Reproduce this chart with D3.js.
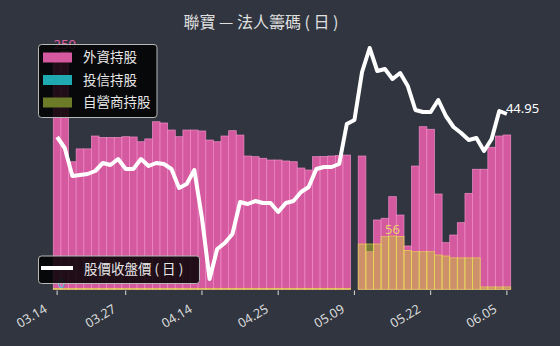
<!DOCTYPE html>
<html><head><meta charset="utf-8">
<script src="https://cdn.jsdelivr.net/npm/d3@7"></script>
<style>html,body{margin:0;padding:0;background:#30353f;} svg{display:block}</style>
</head><body>
<svg id="c" width="560" height="346"></svg>
<script>
const title = "聯寶 — 法人籌碼 ( 日 )";
const seriesNames = ["外資持股", "投信持股", "自營商持股"];
const lineName = "股價收盤價 ( 日 )";
const tickIndex = [0, 9, 19, 29, 39, 49, 59];
const tickLabels = ["03.14", "03.27", "04.14", "04.25", "05.09", "05.22", "06.05"];
const foreign = [246, 250, 134, 147.5, 147.5, 161, 159.5, 159.5, 159.5, 160.3,
  160, 155, 158, 176, 174.7, 167.3, 160.3, 167.3, 167.3, 166.3,
  156.8, 155, 161, 166.6, 162, 140, 139.3, 137.6, 135.8, 135.8,
  134.8, 134, 127.4, 125.3, 139.3, 139.5, 140, 140.5, 141, null,
  140, 39.5, 72.8, 74.6, 97.3, 78, 45.5, 129.5, 170.8, 168.1,
  100.1, 49, 57, 70, 100.8, 126.1, 126.1, 149.2, 161, 162.1];
const trust = [0,0,0,0,0,0,0,0,0,0, 0,0,0,0,0,0,0,0,0,0, 0,0,0,0,0,0,0,0,0,0,
  0,0,0,0,0,0,0,0,0,null, 0,0,0,0,0,0,0,0,0,0, 0,0,0,0,0,0,0,0,0,0];
const dealer = [1,1,1,1,1,1,1,1,1,1, 1,1,1,1,1,1,1,1,1,1, 1,1,1,1,1,1,1,1,1,1,
  1,1,1,1,1,1,1,1,1,null,
  47.6, 47.6, 47.6, 55.3, 56, 55.5, 40.8, 39.5, 39.5, 39.5,
  36, 35, 33, 33, 33, 33, 2.5, 2.5, 2.5, 2.5];
const price = [43.8, 43.25, 41.85, 41.9, 41.95, 42.1, 42.5, 42.4, 42.7, 42.2,
  42.2, 42.7, 42.35, 42.5, 42.45, 42.2, 41.25, 41.45, 42.15, 39.75,
  36.7, 38.2, 38.5, 38.95, 40.55, 40.45, 40.6, 40.5, 40.5, 40.05,
  40.5, 40.6, 41.05, 41.3, 42.2, 42.3, 42.3, 42.45, 44.45, 44.65,
  47.05, 48.25, 47.1, 47.2, 46.7, 47.0, 46.35, 45.15, 45.05, 45.05,
  45.65, 44.85, 44.3, 44.0, 43.65, 43.75, 43.1, 43.7, 45.1, 44.95];

const colors = {bg:"#30353f", foreign:"#d4599e", foreignEdge:"#f58fcb",
  trust:"#1eaab0", dealer:"rgba(200,205,50,0.47)", dealerEdge:"rgba(235,225,80,0.75)",
  dealerSwatch:"#6b7b28", text:"#e6e6e6"};

const svg = d3.select("#c");
const W = 560, H = 346;
svg.append("rect").attr("width", W).attr("height", H).attr("fill", colors.bg);

const idx = d3.range(price.length);
const x = d3.scaleBand().domain(idx).range([53.3, 510.7]).padding(0);
const y = d3.scaleLinear().domain([0, 250]).range([289.3, 51.3]);
const yP = d3.scaleLinear().domain([36, 49]).range([293, 33]);
const bw = x.bandwidth();
const cx = i => x(i) + bw / 2;

svg.append("g").selectAll("rect").data(idx.filter(i => foreign[i] != null)).join("rect")
  .attr("x", i => x(i)).attr("width", bw)
  .attr("y", i => y(foreign[i])).attr("height", i => y(0) - y(foreign[i]))
  .attr("fill", colors.foreign).attr("stroke", colors.foreignEdge)
  .attr("stroke-width", 0.8).attr("stroke-opacity", 0.85);
svg.append("g").selectAll("rect").data(idx.filter(i => trust[i] != null)).join("rect")
  .attr("x", i => x(i)).attr("width", bw)
  .attr("y", i => y(trust[i])).attr("height", i => y(0) - y(trust[i]))
  .attr("fill", colors.trust);
svg.append("g").selectAll("rect").data(idx.filter(i => dealer[i] != null)).join("rect")
  .attr("x", i => x(i)).attr("width", bw)
  .attr("y", i => y(dealer[i])).attr("height", i => y(0) - y(dealer[i]))
  .attr("fill", colors.dealer).attr("stroke", colors.dealerEdge)
  .attr("stroke-width", 0.8);

const ax = svg.append("g");
tickIndex.forEach((ti, k) => {
  ax.append("line").attr("x1", cx(ti)).attr("x2", cx(ti)).attr("y1", 290.5).attr("y2", 295)
    .attr("stroke", "#dddddd").attr("stroke-width", 1);
  ax.append("text").attr("transform", `translate(${cx(ti) - 9},311.5) rotate(-31)`)
    .attr("text-anchor", "end").attr("font-family", "Noto Sans, sans-serif")
    .attr("font-size", 12.8).attr("fill", "#dcdcdc").text(tickLabels[k]);
});

const line = d3.line().x(i => cx(i)).y(i => yP(price[i]));
svg.append("path").datum(idx).attr("d", line).attr("fill", "none")
  .attr("stroke", "#ffffff").attr("stroke-width", 4).attr("stroke-linejoin", "round");

const fMax = d3.maxIndex(foreign), dMax = d3.maxIndex(dealer), tMax = d3.maxIndex(trust);
svg.append("text").attr("x", cx(fMax)).attr("y", y(foreign[fMax]) - 2).attr("text-anchor", "middle")
  .attr("font-family", "Noto Sans, sans-serif").attr("font-size", 13).attr("fill", "#e2619f")
  .text(foreign[fMax]);
svg.append("text").attr("x", cx(dMax)).attr("y", y(dealer[dMax]) - 1.5).attr("text-anchor", "middle")
  .attr("font-family", "Noto Sans, sans-serif").attr("font-size", 13).attr("fill", "#e6d36a")
  .text(dealer[dMax]);
svg.append("text").attr("x", cx(tMax) + 4).attr("y", y(trust[tMax]) - 1.5).attr("text-anchor", "middle")
  .attr("font-family", "Noto Sans, sans-serif").attr("font-size", 13).attr("fill", "#4fbfdc")
  .text(trust[tMax]);
const last = price.length - 1;
svg.append("text").attr("x", cx(last) - 1).attr("y", yP(price[last]) - 1)
  .attr("font-family", "Noto Sans, sans-serif").attr("font-size", 13).attr("fill", "#ffffff")
  .text(price[last].toFixed(2));

svg.append("text").attr("x", 261).attr("y", 28).attr("text-anchor", "middle")
  .attr("font-family", "Noto Sans CJK TC, sans-serif").attr("font-size", 16)
  .attr("fill", "#e0e0e0").text(title);

const lg = svg.append("g");
lg.append("rect").attr("x", 38.5).attr("y", 44.5).attr("width", 118.5).attr("height", 73)
  .attr("rx", 3).attr("fill", "rgba(0,0,0,0.85)").attr("stroke", "#b8b8b8").attr("stroke-width", 1);
const swatches = [colors.foreign, colors.trust, colors.dealerSwatch];
const rowsY = [57.5, 80, 102.5];
seriesNames.forEach((n, k) => {
  lg.append("rect").attr("x", 43).attr("y", rowsY[k] - 5).attr("width", 29).attr("height", 10)
    .attr("fill", swatches[k]);
  lg.append("text").attr("x", 83).attr("y", rowsY[k]).attr("dy", "0.36em")
    .attr("font-family", "Noto Sans CJK TC, sans-serif").attr("font-size", 13.5)
    .attr("fill", colors.text).text(n);
});
const lg2 = svg.append("g");
lg2.append("rect").attr("x", 38.5).attr("y", 256).attr("width", 161).attr("height", 27.5)
  .attr("rx", 3).attr("fill", "rgba(0,0,0,0.85)").attr("stroke", "#b8b8b8").attr("stroke-width", 1);
lg2.append("line").attr("x1", 41).attr("x2", 73).attr("y1", 268).attr("y2", 268)
  .attr("stroke", "#ffffff").attr("stroke-width", 4);
lg2.append("text").attr("x", 84).attr("y", 269).attr("dy", "0.36em")
  .attr("font-family", "Noto Sans CJK TC, sans-serif").attr("font-size", 13.5)
  .attr("fill", colors.text).text(lineName);
</script>
</body></html>
